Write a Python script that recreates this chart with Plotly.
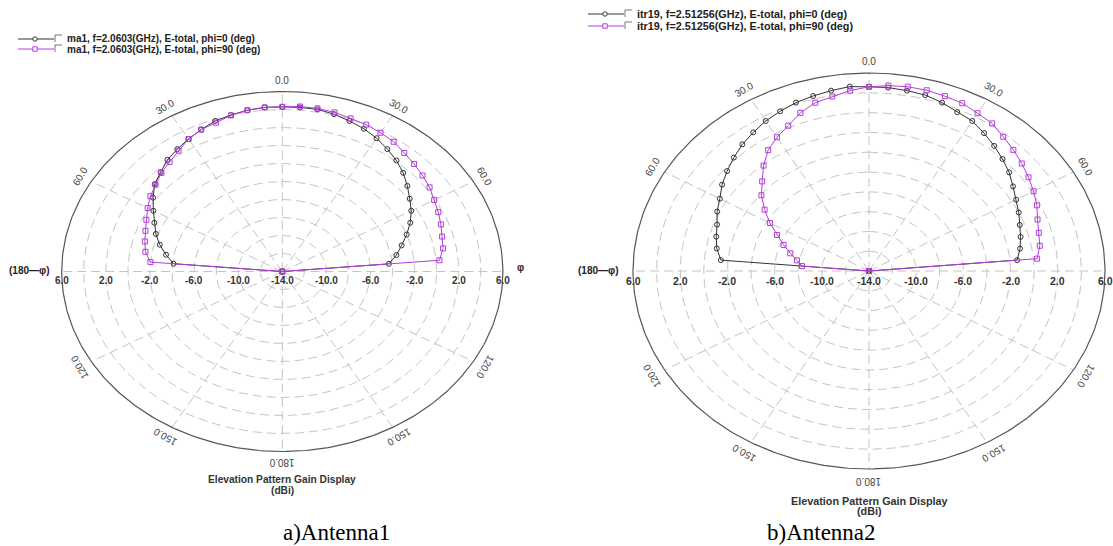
import numpy as np
import plotly.graph_objects as go

W, H = 1113, 546

# ---------------- data (gain in dBi vs theta in degrees) ----------------
theta_deg = [-90, -85, -80, -75, -70, -65, -60, -55, -50, -45, -40, -35, -30, -25, -20, -15, -10, -5,
             0, 5, 10, 15, 20, 25, 30, 35, 40, 45, 50, 55, 60, 65, 70, 75, 80, 85, 90]

ant1_phi0 = [-14.0, -4.1, -3.3, -2.5, -1.8, -1.2, -0.5, 0.3, 1.1, 1.6, 2.2, 2.6, 3.0, 3.4, 3.8, 4.0, 4.2, 4.3,
             4.3, 4.3, 4.3, 4.1, 3.8, 3.5, 3.1, 2.6, 2.1, 1.5, 0.8, 0.1, -0.5, -1.2, -2.0, -2.8, -3.5, -4.3, -14.0]
ant1_phi90 = [-14.0, -2.0, -1.4, -1.1, -0.8, -0.4, 0.1, 0.6, 1.0, 1.5, 1.9, 2.4, 3.0, 3.4, 3.6, 3.95, 4.2, 4.3,
              4.3, 4.4, 4.4, 4.3, 4.1, 4.0, 3.8, 3.6, 3.2, 2.9, 2.6, 2.3, 1.9, 1.6, 1.3, 1.0, 0.8, 0.3, -14.0]
ant2_phi0 = [-14.0, -1.4, -0.9, -0.6, -0.3, 0.2, 0.6, 1.2, 1.7, 2.2, 2.7, 3.1, 3.5, 3.8, 4.1, 4.3, 4.5, 4.7,
             4.6, 4.6, 4.5, 4.4, 4.1, 3.7, 3.5, 3.0, 2.5, 2.0, 1.5, 0.9, 0.4, 0.0, -0.4, -0.7, -1.0, -1.4, -14.0]
ant2_phi90 = [-14.0, -8.3, -7.8, -7.1, -6.3, -5.4, -4.3, -3.2, -2.1, -1.2, -0.1, 0.9, 1.6, 2.2, 3.0, 3.6, 3.9, 4.3,
              4.6, 4.8, 4.9, 4.9, 4.8, 4.7, 4.4, 4.2, 3.7, 3.3, 2.9, 2.5, 2.1, 1.7, 1.2, 0.9, 0.7, 0.3, -14.0]

r_min, r_max, r_step = -14.0, 6.0, 2.0
radial_tick_labels = [6.0, 2.0, -2.0, -6.0, -10.0, -14.0]
angle_ticks = [0, 30, 60, 120, 150, 180]

legend1 = ["ma1, f=2.0603(GHz), E-total, phi=0 (deg)", "ma1, f=2.0603(GHz), E-total, phi=90 (deg)"]
legend2 = ["itr19, f=2.51256(GHz), E-total, phi=0 (deg)", "itr19, f=2.51256(GHz), E-total, phi=90 (deg)"]
captions = ["a)Antenna1", "b)Antenna2"]

BLACK = "#333333"
PURPLE = "#b43cdc"
GRID = "#c4c4c4"

# panel geometry in pixels: centre, px per dB (x, y), domain box
panels = [
    dict(cx=282.3, cy=271.5, sx=11.03, sy=9.0, box=(5, 556, 55, 480), xa="x", ya="y",
         series=(ant1_phi0, ant1_phi90), legend=legend1, leg_x=18, leg_y=(39, 49), leg_fs=10,
         title_y=(479, 490), title_fs=10.2, cap_x=336.5, lab_dy=0.95, tick_fs=10),
    dict(cx=869.0, cy=271.0, sx=11.8, sy=9.9, box=(560, 1112, 35, 500), xa="x2", ya="y2",
         series=(ant2_phi0, ant2_phi90), legend=legend2, leg_x=588, leg_y=(14, 26), leg_fs=10.8,
         title_y=(501, 511), title_fs=10.8, cap_x=821.5, lab_dy=1.0, tick_fs=10.5),
]

fig = go.Figure()
shapes = []
annotations = []


def to_xy(vals, deg):
    rr = np.clip(np.array(vals) - r_min, 0, None)
    t = np.radians(np.array(deg))
    return rr * np.sin(t), rr * np.cos(t)


layout_axes = {}
for i, p in enumerate(panels):
    x0, x1, y0, y1 = p["box"]
    xr = [(x0 - p["cx"]) / p["sx"], (x1 - p["cx"]) / p["sx"]]
    yr = [(p["cy"] - y1) / p["sy"], (p["cy"] - y0) / p["sy"]]
    suffix = "" if i == 0 else "2"
    layout_axes["xaxis" + suffix] = dict(domain=[x0 / W, x1 / W], range=xr, visible=False,
                                         anchor="y" + suffix, fixedrange=True)
    layout_axes["yaxis" + suffix] = dict(domain=[1 - y1 / H, 1 - y0 / H], range=yr, visible=False,
                                         anchor="x" + suffix, fixedrange=True)
    xa, ya = p["xa"], p["ya"]

    # grid rings
    tt = np.linspace(0, 2 * np.pi, 361)
    span = r_max - r_min
    for k in np.arange(r_step, span, r_step):
        fig.add_trace(go.Scatter(x=k * np.sin(tt), y=k * np.cos(tt), mode="lines",
                                 line=dict(color=GRID, width=1, dash="9px,5px"),
                                 hoverinfo="skip", showlegend=False, xaxis=xa, yaxis=ya))
    # spokes
    for a in range(0, 360, 30):
        ar = np.radians(a)
        fig.add_trace(go.Scatter(x=[0, span * np.sin(ar)], y=[0, span * np.cos(ar)], mode="lines",
                                 line=dict(color=GRID, width=1, dash="9px,5px"),
                                 hoverinfo="skip", showlegend=False, xaxis=xa, yaxis=ya))
    # outer boundary
    fig.add_trace(go.Scatter(x=span * np.sin(tt), y=span * np.cos(tt), mode="lines",
                             line=dict(color="#555555", width=1.2),
                             hoverinfo="skip", showlegend=False, xaxis=xa, yaxis=ya))

    # data
    s0, s90 = p["series"]
    bx, by = to_xy(s0, theta_deg)
    fig.add_trace(go.Scatter(x=bx, y=by, mode="lines+markers", name=p["legend"][0],
                             line=dict(color=BLACK, width=1),
                             marker=dict(symbol="circle-open", size=5, color=BLACK, line=dict(width=1)),
                             showlegend=False, xaxis=xa, yaxis=ya))
    mx, my = to_xy(s90, theta_deg)
    fig.add_trace(go.Scatter(x=mx, y=my, mode="lines+markers", name=p["legend"][1],
                             line=dict(color=PURPLE, width=1),
                             marker=dict(symbol="square-open", size=5, color=PURPLE, line=dict(width=1)),
                             showlegend=False, xaxis=xa, yaxis=ya))

    # radial tick labels
    for v in radial_tick_labels:
        d = v - r_min
        sides = [0] if d == 0 else [-d, d]
        for xv in sides:
            annotations.append(dict(x=xv, y=-p["lab_dy"], xref=xa, yref=ya, text="<b>%.1f</b>" % v,
                                    showarrow=False, font=dict(family="Arial", size=p["tick_fs"], color="#333333"),
                                    xanchor="center", yanchor="middle"))
    # angle labels
    lr = span * 1.06
    for a in angle_ticks:
        ar = np.radians(a)
        sides = [1] if a in (0, 180) else [1, -1]
        for sgn in sides:
            annotations.append(dict(x=sgn * lr * np.sin(ar), y=lr * np.cos(ar), xref=xa, yref=ya,
                                    text="%.1f" % a, showarrow=False, textangle=sgn * a if a != 180 else 180,
                                    font=dict(family="Arial", size=10, color="#444444"),
                                    xanchor="center", yanchor="middle"))
    # phi markers
    annotations.append(dict(x=-(span + 2.9), y=0.1,
                            xref=xa, yref=ya, text="<b>(180—φ)</b>", showarrow=False,
                            font=dict(family="Arial", size=10, color="#222222"), xanchor="center"))
    if i == 0:
        annotations.append(dict(x=span + 1.6, y=0.4, xref=xa, yref=ya, text="<b>φ</b>", showarrow=False,
                                font=dict(family="Arial", size=10, color="#222222"), xanchor="center"))

    # bottom titles
    annotations.append(dict(x=p["cx"] / W, y=1 - p["title_y"][0] / H, xref="paper", yref="paper",
                            text="<b>Elevation Pattern Gain Display</b>", showarrow=False,
                            font=dict(family="Arial", size=p["title_fs"], color="#333333"),
                            xanchor="center", yanchor="middle"))
    annotations.append(dict(x=p["cx"] / W, y=1 - p["title_y"][1] / H, xref="paper", yref="paper",
                            text="<b>(dBi)</b>", showarrow=False,
                            font=dict(family="Arial", size=p["title_fs"], color="#333333"),
                            xanchor="center", yanchor="middle"))
    # caption
    annotations.append(dict(x=p["cap_x"] / W, y=0, xref="paper", yref="paper",
                            text=captions[i], showarrow=False, borderpad=0,
                            font=dict(family="Liberation Serif", size=23, color="#000000"),
                            xanchor="center", yanchor="bottom"))

    # legend (drawn manually)
    lx = p["leg_x"]
    for j, (txt, col, sym) in enumerate(zip(p["legend"], [BLACK, PURPLE], ["circle", "rect"])):
        ly = p["leg_y"][j]
        shapes.append(dict(type="line", xref="paper", yref="paper", x0=lx / W, x1=(lx + 36) / W,
                           y0=1 - ly / H, y1=1 - ly / H, line=dict(color=col, width=1)))
        shapes.append(dict(type=sym, xref="paper", yref="paper", xsizemode="pixel", ysizemode="pixel",
                           xanchor=(lx + 17) / W, yanchor=1 - ly / H, x0=-2.2, x1=2.2, y0=-2.2, y1=2.2,
                           line=dict(color=col, width=1), fillcolor="white"))
        bx0 = lx + 37
        shapes.append(dict(type="path", xref="paper", yref="paper",
                           path="M %f,%f L %f,%f L %f,%f" % (bx0 / W, 1 - (ly + 3) / H, bx0 / W, 1 - (ly - 4) / H,
                                                             (bx0 + 7) / W, 1 - (ly - 4) / H),
                           line=dict(color="#777777", width=1)))
        annotations.append(dict(x=(bx0 + 10) / W, y=1 - ly / H, xref="paper", yref="paper",
                                text="<b>%s</b>" % txt, showarrow=False,
                                font=dict(family="Arial", size=p["leg_fs"], color="#222222"),
                                xanchor="left", yanchor="middle"))

fig.update_layout(width=W, height=H, margin=dict(l=0, r=0, t=0, b=0),
                  paper_bgcolor="white", plot_bgcolor="rgba(0,0,0,0)",
                  shapes=shapes, annotations=annotations, showlegend=False, **layout_axes)

fig.write_html("out.html", config={"displayModeBar": False})
